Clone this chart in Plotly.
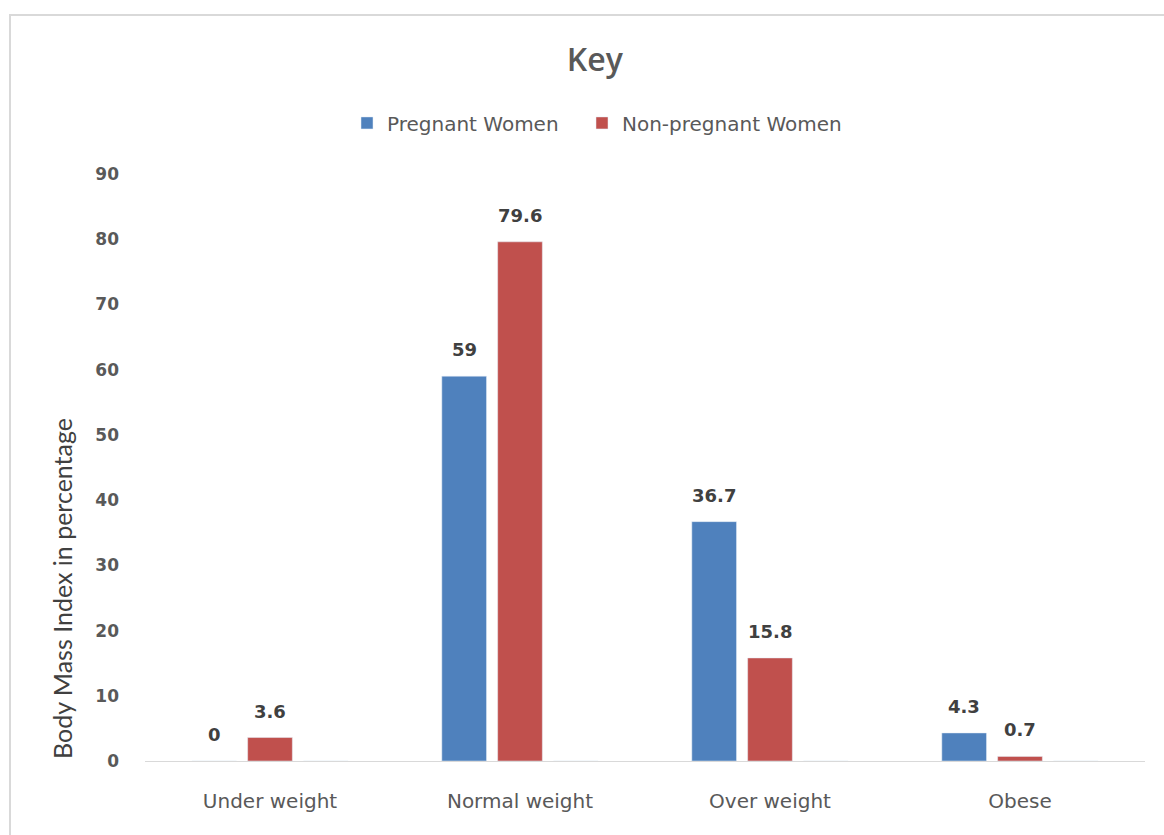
import plotly.graph_objects as go

categories = ["Under weight", "Normal weight", "Over weight", "Obese"]
pregnant = [0, 59, 36.7, 4.3]
non_pregnant = [3.6, 79.6, 15.8, 0.7]
spacer = [0, 0, 0, 0]  # empty third series present in original chart
y_ticks = [0, 10, 20, 30, 40, 50, 60, 70, 80, 90]

W, H = 1164, 835
ML, MR, MT, MB = 145, 19, 174, 74
BARGAP, BARGROUPGAP = 0.33, 0.2
n_series = 3
plot_w = W - ML - MR
slot = plot_w / len(categories) * (1 - BARGAP) / n_series

fig = go.Figure()
fig.add_trace(go.Bar(x=categories, y=pregnant, name="Pregnant Women",
                     marker_color="#4F81BD", legend="legend"))
fig.add_trace(go.Bar(x=categories, y=non_pregnant, name="Non-pregnant Women",
                     marker_color="#C0504D", legend="legend2"))
fig.add_trace(go.Bar(x=categories, y=spacer, name="", showlegend=False,
                     marker_color="rgba(0,0,0,0)", hoverinfo="skip"))

label_font = dict(family="DejaVu Sans", size=18, color="#404040", weight="bold")
annotations = []
for series, offset in ((pregnant, -slot), (non_pregnant, 0.0)):
    for cat, val in zip(categories, series):
        annotations.append(dict(
            x=cat, y=val, xref="x", yref="y", text=f"{val:g}",
            showarrow=False, xshift=offset, yshift=14, yanchor="bottom",
            font=label_font,
        ))

annotations.append(dict(
    text="Body Mass Index in percentage", textangle=-90,
    xref="paper", yref="paper", x=-0.083, y=0.293,
    xanchor="center", yanchor="middle", showarrow=False,
    font=dict(family="Lato", size=25, color="#404040"),
))

legend_style = dict(orientation="h", yanchor="middle", y=1.087, xanchor="left",
                    font=dict(family="DejaVu Sans", size=20, color="#595959"),
                    itemwidth=30, bgcolor="rgba(0,0,0,0)")

fig.update_layout(
    width=W, height=H,
    margin=dict(l=ML, r=MR, t=MT, b=MB),
    paper_bgcolor="white", plot_bgcolor="white",
    barmode="group", bargap=BARGAP, bargroupgap=BARGROUPGAP,
    title=dict(text="Key", x=0.511, xanchor="center", y=0.928, yanchor="middle",
               font=dict(family="Open Sans", size=32, color="#595959", weight=600)),
    legend=dict(x=0.202, **legend_style),
    legend2=dict(x=0.437, **legend_style),
    font=dict(family="DejaVu Sans", color="#595959"),
    annotations=annotations,
    shapes=[dict(type="rect", xref="paper", yref="paper",
                 x0=-0.135, x1=1.1, y0=-0.2, y1=1.271,
                 line=dict(color="#D9D9D9", width=2), layer="below")],
)
fig.update_xaxes(
    showgrid=False, showline=True, linecolor="#D9D9D9", linewidth=1,
    ticks="", tickfont=dict(family="DejaVu Sans", size=20, color="#595959"),
    ticklabelstandoff=22,
)
fig.update_yaxes(
    range=[0, 90], tickvals=y_ticks, showgrid=False, zeroline=False,
    showline=False, ticks="", ticklabelstandoff=25,
    tickfont=dict(family="DejaVu Sans", size=17, color="#595959", weight="bold"),
)

fig.write_html("out.html")
